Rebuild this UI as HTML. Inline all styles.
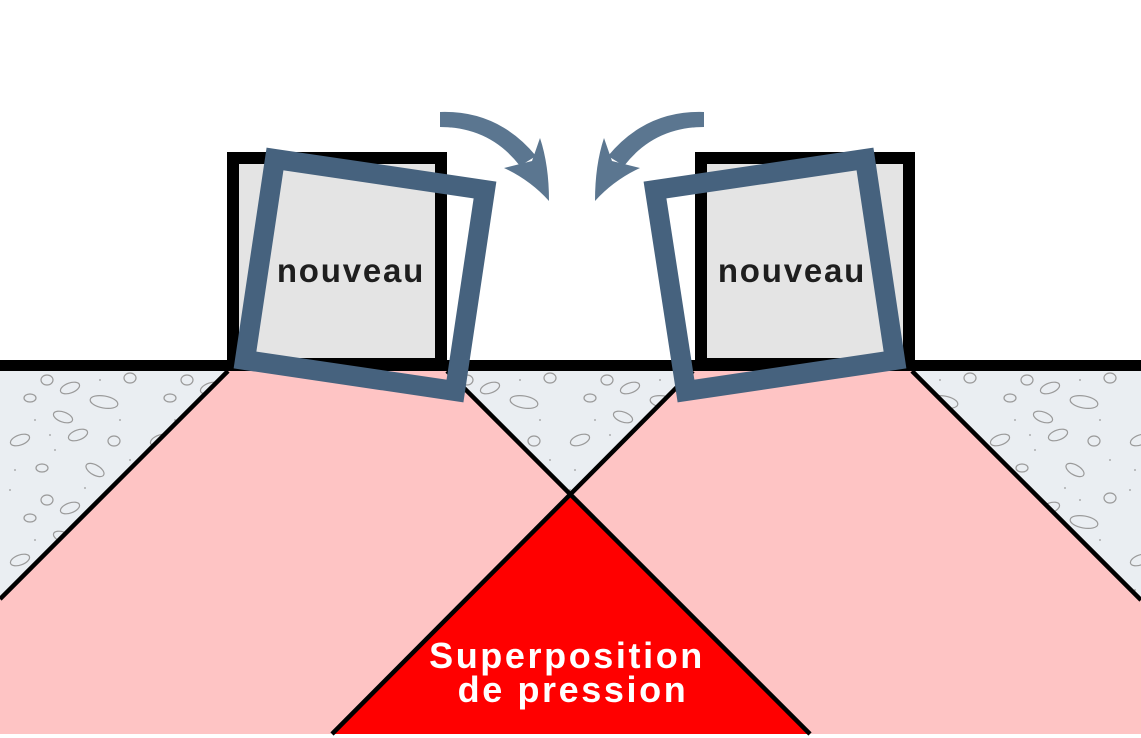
<!DOCTYPE html>
<html><head><meta charset="utf-8"><style>
html,body{margin:0;padding:0;background:#fff;}
svg{display:block;}
</style></head><body>
<svg width="1141" height="738" viewBox="0 0 1141 738" xmlns="http://www.w3.org/2000/svg">
<defs>
<pattern id="peb" width="140" height="120" patternUnits="userSpaceOnUse">
<rect width="140" height="120" fill="#eaeef2"/>
<g fill="none" stroke="#9a9a9a" stroke-width="1.2">
<ellipse cx="47" cy="20" rx="6" ry="5"/>
<ellipse cx="70" cy="28" rx="10" ry="5" transform="rotate(-20 70 28)"/>
<ellipse cx="30" cy="38" rx="6" ry="4"/>
<ellipse cx="104" cy="42" rx="14" ry="6" transform="rotate(10 104 42)"/>
<ellipse cx="63" cy="57" rx="10" ry="5" transform="rotate(20 63 57)"/>
<ellipse cx="20" cy="80" rx="10" ry="5" transform="rotate(-20 20 80)"/>
<ellipse cx="78" cy="75" rx="10" ry="5" transform="rotate(-20 78 75)"/>
<ellipse cx="114" cy="81" rx="6" ry="5"/>
<ellipse cx="130" cy="18" rx="6" ry="5"/>
<ellipse cx="42" cy="108" rx="6" ry="4"/>
<ellipse cx="95" cy="110" rx="10" ry="5" transform="rotate(30 95 110)"/>
</g>
<g fill="#9a9a9a">
<circle cx="10" cy="10" r="0.9"/><circle cx="85" cy="8" r="0.9"/><circle cx="35" cy="60" r="0.9"/>
<circle cx="120" cy="60" r="0.9"/><circle cx="55" cy="90" r="0.9"/><circle cx="130" cy="100" r="0.9"/>
<circle cx="15" cy="110" r="0.9"/><circle cx="100" cy="20" r="0.9"/><circle cx="50" cy="75" r="0.9"/>
</g>
</pattern>
</defs>
<rect x="0" y="366" width="1141" height="372" fill="url(#peb)"/>
<polygon points="228,371 447,371 810,734 0,734 0,599" fill="#fec4c4"/>
<polygon points="693,371 912,371 1141,600 1141,734 332,734" fill="#fec4c4"/>
<rect x="0" y="734" width="1141" height="4" fill="#fff"/>
<polygon points="570,494 810,734 332,734" fill="#ff0000"/>
<g stroke="#000" stroke-width="4.5" fill="none">
<line x1="228" y1="371" x2="0" y2="599"/>
<line x1="447" y1="371" x2="810" y2="734"/>
<line x1="693" y1="371" x2="332" y2="734"/>
<line x1="912" y1="371" x2="1141" y2="600"/>
</g>
<rect x="0" y="360" width="1141" height="11" fill="#000"/>
<rect x="233" y="158" width="208" height="206" fill="#e4e4e4" stroke="#000" stroke-width="12"/>
<rect x="701" y="158" width="208" height="206" fill="#e4e4e4" stroke="#000" stroke-width="12"/>
<polygon points="275,159 485,190 455,391 245,360" fill="none" stroke="#46627e" stroke-width="20" stroke-linejoin="miter"/>
<polygon points="655,190 865,159 895,360 686,391" fill="none" stroke="#46627e" stroke-width="20" stroke-linejoin="miter"/>
<g font-family="Liberation Sans, sans-serif" font-weight="bold" fill="#1e1e1e" font-size="33" text-anchor="middle" letter-spacing="1.8">
<text x="351" y="282">nouveau</text>
<text x="792" y="282">nouveau</text>
</g>
<g font-family="Liberation Sans, sans-serif" font-weight="bold" fill="#fff" font-size="36" text-anchor="middle" letter-spacing="2.6">
<text x="567" y="668">Superposition</text>
<text x="573" y="702">de pression</text>
</g>
<g fill="#5b7690">
<path d="M440,112 Q498,110 536,156 L520,166 Q490,127 440,127 Z"/>
<path d="M504,168 L532,161 L540,138 Q549,165 549,201 Q530,180 504,168 Z"/>
</g>
<g transform="translate(1144,0) scale(-1,1)" fill="#5b7690">
<path d="M440,112 Q498,110 536,156 L520,166 Q490,127 440,127 Z"/>
<path d="M504,168 L532,161 L540,138 Q549,165 549,201 Q530,180 504,168 Z"/>
</g>
</svg>
</body></html>
